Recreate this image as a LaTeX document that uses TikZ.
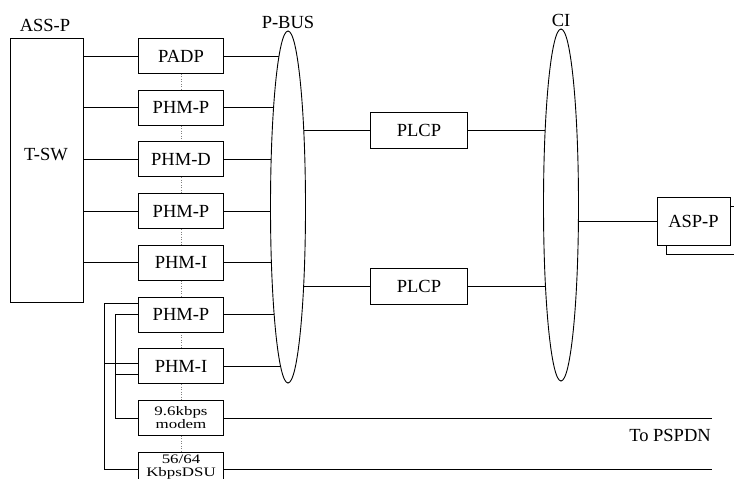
\documentclass[tikz,border=0pt]{standalone}
\usepackage{fontspec}
\setmainfont{Liberation Serif}
\newfontfamily\widefont[FakeStretch=1.3]{Liberation Serif}
\usepackage{tikz}
\usetikzlibrary{positioning,calc,shapes.geometric,backgrounds}
\tikzset{
  box/.style={rectangle, draw, line width=0.9pt, fill=white, align=center,
              inner sep=0pt, font=\fontsize{18.5}{20}\selectfont},
  module/.style={box, minimum width=85pt, minimum height=35pt},
  plcp/.style={box, minimum width=97pt, minimum height=36pt},
  bus/.style={ellipse, draw, line width=0.9pt, fill=white, inner sep=0pt,
              minimum width=35pt, minimum height=352pt},
  lbl/.style={inner sep=1pt, font=\fontsize{18.5}{20}\selectfont},
  small/.style={align=center, inner sep=0pt, font=\widefont\fontsize{13}{13}\selectfont},
  link/.style={line width=0.7pt},
  dots/.style={dotted, line width=0.5pt, gray},
}
\begin{document}
\begin{tikzpicture}[x=1pt, y=-1pt]
  \useasboundingbox (0,0) rectangle (734,479);
  % switch
  \node[box, minimum width=73pt, minimum height=264pt] (assp) at (46.5,170) {};
  \node[lbl] (assplbl) at (45,25) {ASS-P};
  \node[lbl] (tsw) at (46,155) {T-SW};
  % module column
  \node[module] (padp) at (181,56) {PADP};
  \node[module, below=15.8pt of padp] (phmpa) {PHM-P};
  \node[module, below=15.8pt of phmpa] (phmd) {PHM-D};
  \node[module, below=15.8pt of phmd] (phmpb) {PHM-P};
  \node[module, below=15.8pt of phmpb] (phmia) {PHM-I};
  \node[module, below=15.8pt of phmia] (phmpc) {PHM-P};
  \node[module, below=15.8pt of phmpc] (phmib) {PHM-I};
  \node[module, small, below=15.8pt of phmib] (modem) {9.6kbps\\modem};
  \node[module, below=15.8pt of modem] (dsu) {};
  \node[small] (dsutext) at ($(dsu.center)+(0,-2.5)$) {56/64\\KbpsDSU};
  % buses
  \node[bus] (pbus) at (288,207) {};
  \node[lbl, above=1pt of pbus] (pbuslbl) {P-BUS};
  \node[bus] (ci) at (561,205) {};
  \node[lbl, above=1pt of ci] (cilbl) {CI};
  \node[plcp] (plcpa) at (419,130) {PLCP};
  \node[plcp] (plcpb) at (419,286) {PLCP};
  \node[box, minimum width=73pt, minimum height=48pt] (aspp) at (693.5,221) {ASP-P};
  \node[lbl] (pspdn) at (670,435) {To PSPDN};
  \coordinate (lineend) at (712,0);

  \begin{scope}[on background layer]
    \foreach \a/\b in {padp/phmpa,phmpa/phmd,phmd/phmpb,phmpb/phmia,
                       phmia/phmpc,phmpc/phmib,phmib/modem,modem/dsu}
      \draw[dots] (\a) -- (\b);
    \foreach \m in {padp,phmpa,phmd,phmpb,phmia}
      \draw[link] (assp.east |- \m) -- (\m);
    \foreach \m in {padp,phmpa,phmd,phmpb,phmia,phmpc,phmib}
      \draw[link] (\m) -- (\m -| pbus.center);
    \draw[link] (pbus.center |- plcpa) -- (plcpa) -- (ci.center |- plcpa);
    \draw[link] (pbus.center |- plcpb) -- (plcpb) -- (ci.center |- plcpb);
    \draw[link] (ci.center |- aspp) -- (aspp);
  \end{scope}
  % second ASP-P behind
  \draw[link] ($(aspp.north east)+(0,10)$) -- ++(4,0);
  \draw[link] ($(aspp.south west)+(10,0)$) -- ++(0,9) -- ++(67,0);
  % access lines
  \draw[link] ($(phmpc.west)+(0,-11)$) -| ($(dsu.west)+(-34,0)$) -- (dsu.west);
  \draw[link] ($(phmib.west)+(0,-2.5)$) -- ++(-34,0);
  \draw[link] (phmpc.west) -| ($(modem.west)+(-23,0)$) -- (modem.west);
  \draw[link] ($(phmib.west)+(0,8.5)$) -- ++(-23,0);
  \draw[link] (modem.east) -- (modem.east -| lineend);
  \draw[link] (dsu.east) -- (dsu.east -| lineend);
\end{tikzpicture}
\end{document}
